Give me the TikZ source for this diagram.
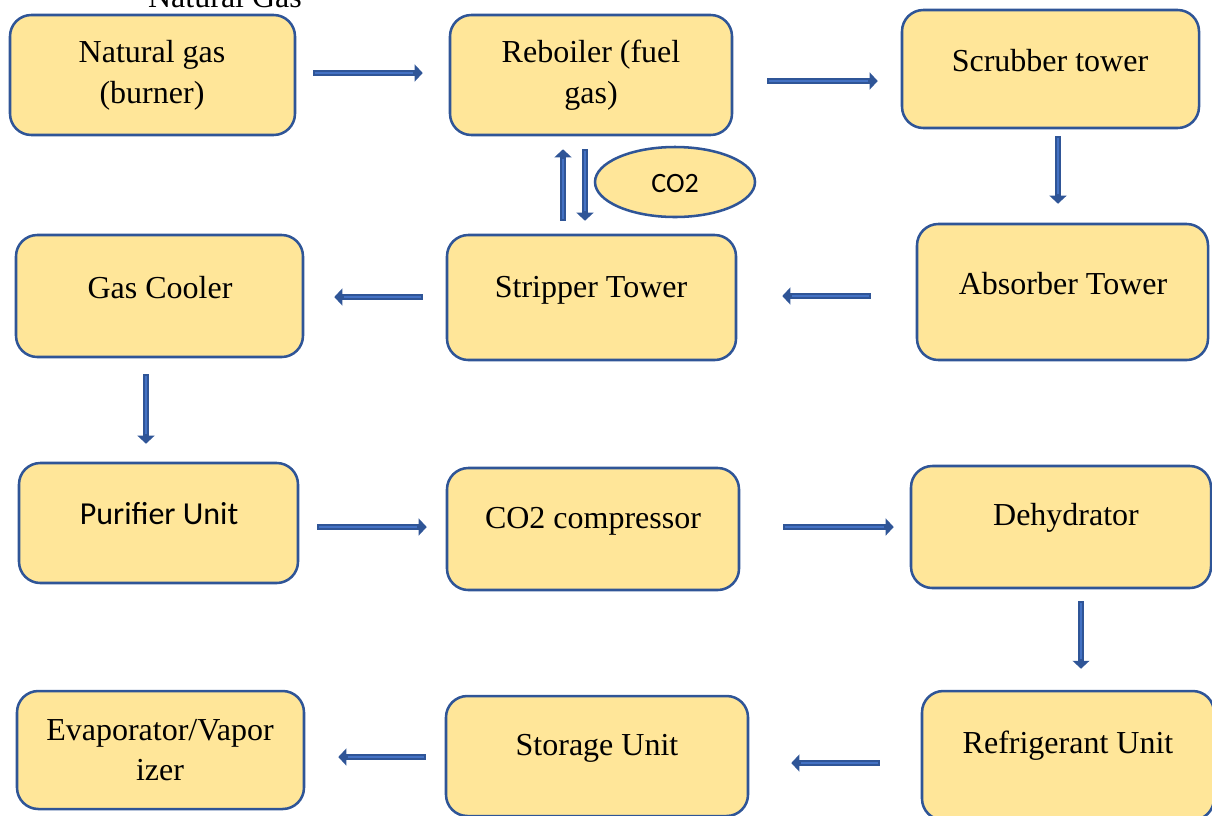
\documentclass[tikz,border=0pt]{standalone}
\usepackage{fontspec}
\setmainfont{Liberation Serif}
\newfontfamily\calfont{Carlito}
\usetikzlibrary{arrows.meta,calc,shapes.geometric}
\definecolor{boxfill}{HTML}{FFE699}
\definecolor{boxline}{HTML}{2F5597}
\definecolor{arrowblue}{HTML}{2F5597}
\definecolor{arrowcore}{HTML}{4472C4}
\begin{document}
\begin{tikzpicture}[x=0.75pt,y=-0.75pt,
  box/.style={draw=boxline, fill=boxfill, line width=1.9pt, rounded corners=16pt, inner sep=0pt},
  sz/.style 2 args={minimum width=#1*0.75pt, minimum height=#2*0.75pt},
  lbl/.style={font=\fontsize{24}{30.5}\selectfont, align=center, inner sep=0pt, text=black},
  flow/.style={draw=arrowblue, line width=4.6pt, -{Triangle[length=6pt,width=12.5pt]},
    postaction={draw=arrowcore, line width=1.8pt, -, shorten <=1pt, shorten >=7pt}},
]
\useasboundingbox (0,0) rectangle (1212,815);

% process boxes
\node[box, sz={285}{120}] (n1)  at (152.5,75)   {};
\node[box, sz={282}{120}] (n2)  at (591,75)     {};
\node[box, sz={297}{118}] (n3)  at (1050.5,69)  {};
\node[box, sz={287}{122}] (n4)  at (159.5,296)  {};
\node[box, sz={289}{125}] (n5)  at (591.5,297.5){};
\node[box, sz={291}{136}] (n6)  at (1062.5,292) {};
\node[box, sz={279}{120}] (n7)  at (158.5,523)  {};
\node[box, sz={292}{122}] (n8)  at (593,529)    {};
\node[box, sz={300}{122}] (n9)  at (1061,527)   {};
\node[box, sz={287}{118}] (n10) at (160.5,750)  {};
\node[box, sz={302}{120}] (n11) at (597,756)    {};
\node[box, sz={292}{129}] (n12) at (1068,755.5) {};

% CO2 bubble beside the reboiler loop
\node[box, ellipse, rounded corners=0pt, sz={160}{70}] (gas) at (675,182) {};
\node[lbl, font=\calfont\fontsize{21}{25}\selectfont] (tgas) at (675,184) {CO2};

% box texts
\node[lbl, anchor=base] (t0) at (225,7) {Natural Gas};
\node[lbl] (t1)  at (152,75)  {Natural gas\\(burner)};
\node[lbl] (t2)  at (591,75)  {Reboiler (fuel\\gas)};
\node[lbl] (t3)  at (1050,61) {Scrubber tower};
\node[lbl] (t4)  at (160,288) {Gas Cooler};
\node[lbl] (t5)  at (591,290) {Stripper Tower};
\node[lbl] (t6)  at (1063,284) {Absorber Tower};
\node[lbl, font=\calfont\fontsize{24}{29}\selectfont] (t7) at (159,514) {Purifier Unit};
\node[lbl] (t8)  at (593,521) {CO2 compressor};
\node[lbl] (t9)  at (1066,518) {Dehydrator};
\node[lbl] (t10) at (160,750) {Evaporator/Vapor\\izer};
\node[lbl] (t11) at (597,748) {Storage Unit};
\node[lbl] (t12) at (1068,746) {Refrigerant Unit};

% flow arrows
\draw[flow] ([shift={(17,-2)}]n1.east)   -- ([shift={(-26,-2)}]n2.west);
\draw[flow] ([shift={(34,6)}]n2.east)    -- ([shift={(-23,12)}]n3.west);
\draw[flow] ([shift={(7.5,7)}]n3.south)  -- ([shift={(-4.5,-19)}]n6.north);
\draw[flow] ([shift={(-45,4)}]n6.west)   -- ([shift={(45,-1.5)}]n5.east);
\draw[flow] ([shift={(-23,-0.5)}]n5.west) -- ([shift={(30,1)}]n4.east);
\draw[flow] ([shift={(-28.5,-13)}]n5.north) -- ([shift={(-28,13)}]n2.south);
\draw[flow] ([shift={(-6,13)}]n2.south)  -- ([shift={(-6.5,-13)}]n5.north);
\draw[flow] ([shift={(-13.5,16)}]n4.south) -- ([shift={(-12.5,-18)}]n7.north);
\draw[flow] ([shift={(18,4)}]n7.east)    -- ([shift={(-19,-2)}]n8.west);
\draw[flow] ([shift={(43,-2)}]n8.east)   -- ([shift={(-16,0)}]n9.west);
\draw[flow] ([shift={(20,12)}]n9.south)  -- ([shift={(13,-21)}]n12.north);
\draw[flow] ([shift={(-41,7.5)}]n12.west) -- ([shift={(42,7)}]n11.east);
\draw[flow] ([shift={(-19,1)}]n11.west)  -- ([shift={(33,7)}]n10.east);
\end{tikzpicture}
\end{document}
